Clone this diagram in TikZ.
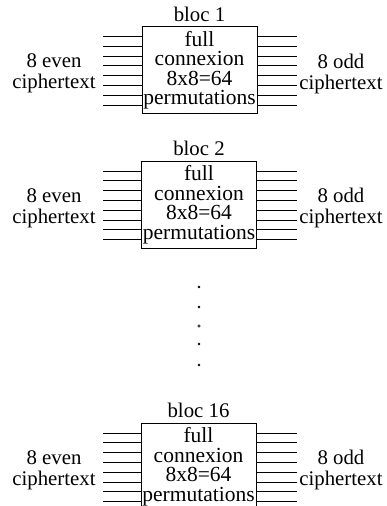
\documentclass[tikz,border=0pt]{standalone}
\usepackage{fontspec}
\setmainfont{Liberation Serif}
\begin{document}
\begin{tikzpicture}[x=1pt,y=-1pt,
  blocbox/.style={draw,line width=0.8pt,minimum width=115pt,minimum height=87pt,inner sep=0pt,align=center,
    font=\fontsize{21.5}{19.5}\selectfont},
  wire/.style={line width=0.9pt},
  sidelabel/.style={align=center,font=\fontsize{20.8}{21}\selectfont,inner sep=0pt},
  title/.style={font=\fontsize{20.8}{22}\selectfont,inner sep=0pt},
  dot/.style={circle,fill,inner sep=0pt,minimum size=2.6pt}]
\useasboundingbox (0,0) rectangle (386,506);
\fill[white] (0,0) rectangle (386,506);

\foreach \name/\cx/\cy/\lab in {b1/199.5/70/{bloc 1},b2/199/204.5/{bloc 2},b3/198.5/466.5/{bloc 16}}{
  \node[blocbox] (\name) at (\cx,\cy) {full\\connexion\\8x8=64\\permutations};
  \node[title,anchor=base] (\name t) at ([yshift=5pt]\name.north) {\lab};
  \node[sidelabel] (\name l) at (54,\cy+3.5) {8 even\\ciphertext};
  \node[sidelabel] (\name r) at (341,\cy+3.5) {8 odd\\ciphertext};
  \foreach \i in {0,...,7}{
    \coordinate (\name w\i) at (103,\cy-33.5+\i*9.8);
    \coordinate (\name e\i) at (297,\cy-33.5+\i*9.8);
    \draw[wire] (\name w\i) -- (\name w\i -| \name.west);
    \draw[wire] (\name.east |- \name e\i) -- (\name e\i);
  }
}
\node[dot] (d1) at (199,287) {};
\node[dot] (d2) at (199,307) {};
\node[circle,draw,line width=0.6pt,inner sep=0pt,minimum size=2.6pt] (d3) at (199,326) {};
\node[dot] (d4) at (199,344) {};
\node[dot] (d5) at (199,365) {};
\end{tikzpicture}
\end{document}
